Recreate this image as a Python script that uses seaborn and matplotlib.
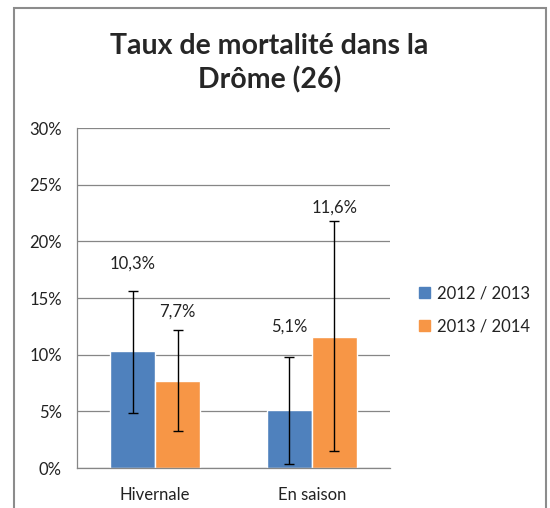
import pandas as pd
import numpy as np
import matplotlib
matplotlib.use("Agg")
import matplotlib.pyplot as plt
import seaborn as sns
from matplotlib.patches import Rectangle

# Data
categories = ["Hivernale", "En saison"]
seasons = ["2012 / 2013", "2013 / 2014"]
rate_2012 = [10.3, 5.1]
rate_2013 = [7.7, 11.6]
err_low_2012 = [5.4, 4.75]
err_high_2012 = [5.3, 4.7]
err_low_2013 = [4.4, 10.1]
err_high_2013 = [4.5, 10.2]
value_labels_2012 = ["10,3%", "5,1%"]
value_labels_2013 = ["7,7%", "11,6%"]
yticks = [0, 5, 10, 15, 20, 25, 30]

# label heights (in %) as placed in the original chart
label_y_2012 = [18.0, 12.5]
label_y_2013 = [13.8, 23.0]

df = pd.DataFrame({
    "Catégorie": categories * 2,
    "Saison": [seasons[0]] * 2 + [seasons[1]] * 2,
    "Taux": rate_2012 + rate_2013,
})

sns.set_style("white")
plt.rcParams["font.family"] = ["Lato", "DejaVu Sans"]

colors = ["#4F81BD", "#F79646"]

fig = plt.figure(figsize=(5.5, 5.08), dpi=100)
ax = fig.add_axes([0.14, 0.0787, 0.569, 0.669])

sns.barplot(data=df, x="Catégorie", y="Taux", hue="Saison", order=categories,
            hue_order=seasons, palette=colors, width=0.575, errorbar=None,
            saturation=1, ax=ax, legend=True)

# Error bars + value labels
for i, s in enumerate(seasons):
    vals = rate_2012 if i == 0 else rate_2013
    lo = err_low_2012 if i == 0 else err_low_2013
    hi = err_high_2012 if i == 0 else err_high_2013
    labs = value_labels_2012 if i == 0 else value_labels_2013
    ly = label_y_2012 if i == 0 else label_y_2013
    cont = ax.containers[i]
    xs = [b.get_x() + b.get_width() / 2 for b in cont]
    ax.errorbar(xs, vals, yerr=[lo, hi], fmt="none", ecolor="black",
                elinewidth=1, capsize=3.5, capthick=1)
    for x, y, t in zip(xs, ly, labs):
        ax.text(x, y, t, ha="center", va="center", fontsize=12, color="#222222")

# Axes styling
ax.set_ylim(0, 30)
ax.set_xlim(-0.5, 1.5)
ax.set_yticks(yticks)
ax.set_yticklabels([f"{t}%" for t in yticks], fontsize=12, color="#222222")
ax.set_xticks([0, 1])
ax.set_xticklabels(categories, fontsize=12, color="#222222")
ax.set_xticks([-0.5, 0.5, 1.5], minor=True)
ax.tick_params(axis="x", which="major", length=0, pad=14)
ax.tick_params(axis="x", which="minor", length=5, color="#868686", direction="out")
ax.tick_params(axis="y", length=5, color="#868686", direction="out", pad=6)
ax.set_xlabel("")
ax.set_ylabel("")
ax.yaxis.grid(True, color="#868686", linewidth=0.9)
ax.set_axisbelow(True)
for side in ["top", "right"]:
    ax.spines[side].set_visible(False)
for side in ["left", "bottom"]:
    ax.spines[side].set_color("#868686")
    ax.spines[side].set_linewidth(0.9)

# Legend
ax.get_legend().remove()
handles = [Rectangle((0, 0), 1, 1, color=c) for c in colors]
fig.legend(handles, seasons, loc="center left", bbox_to_anchor=(0.735, 0.39),
           frameon=False, fontsize=12, handlelength=0.65, handleheight=0.65,
           handletextpad=0.4, labelspacing=1.05, labelcolor="#222222")

# Title
fig.text(0.49, 1 - 63 / 508, "Taux de mortalité dans la\nDrôme (26)",
         ha="center", va="center", fontsize=20.5, fontweight="bold",
         linespacing=1.35)

# Outer frame
fig.add_artist(Rectangle((14 / 550, -0.02), (546 - 14) / 550, 1 - 8 / 508 + 0.02,
                         transform=fig.transFigure, fill=False,
                         edgecolor="#8c8c8c", linewidth=1.5))

plt.savefig("out.png", dpi=100)
